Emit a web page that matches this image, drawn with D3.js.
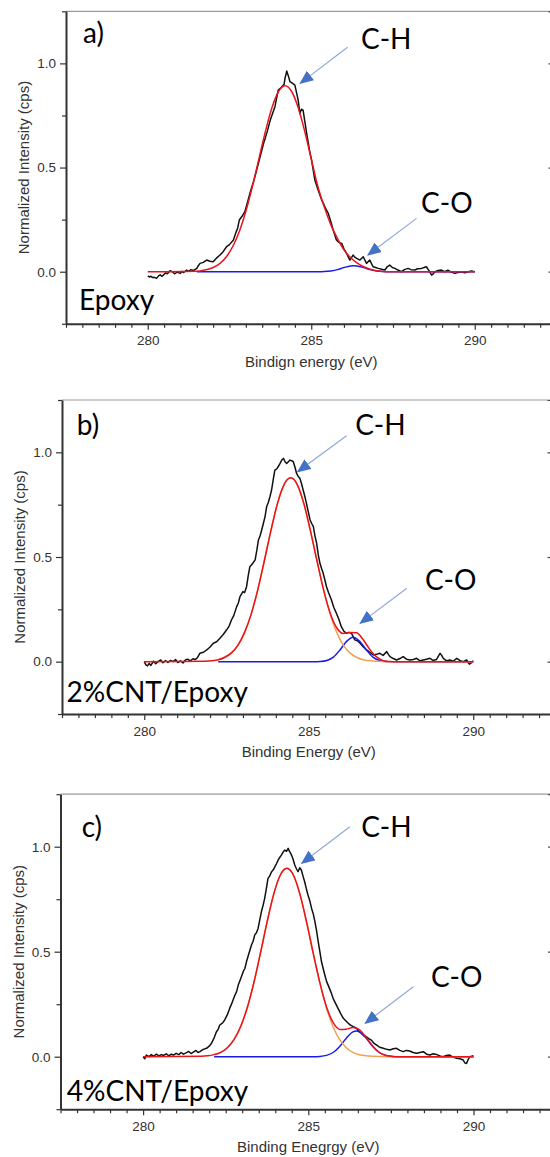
<!DOCTYPE html>
<html>
<head>
<meta charset="utf-8">
<script src="https://cdn.jsdelivr.net/npm/d3@7"></script>
<style>
  body { margin: 0; background: #fff; }
  svg { display: block; }
</style>
</head>
<body>
<div id="chart"></div>
<script>
// ---- axis ticks (shared by the three panels) ----
const xTicks = [280, 285, 290];
const xMinorTicks = [277.5, 278, 278.5, 279, 279.5, 280.5, 281, 281.5, 282, 282.5, 283, 283.5, 284, 284.5,
  285.5, 286, 286.5, 287, 287.5, 288, 288.5, 289, 289.5, 290.5, 291, 291.5, 292, 292.5];
const yTicks = [0, 0.5, 1.0];
const yMinorTicks = [-0.25, 0.25, 0.75, 1.25];
const xDomain = [277.5, 292.5];
const yDomain = [-0.25, 1.25];

// ---- a) Epoxy : [binding energy (eV), normalized intensity] ----
const epoxyRaw = [[280.0,-0.02],[280.05,-0.025],[280.1,-0.022],[280.15,-0.028],[280.2,-0.027],[280.27,-0.032],[280.33,-0.02],
  [280.38,-0.015],[280.43,-0.022],[280.48,-0.016],[280.55,-0.005],[280.6,-0.01],[280.68,0.005],[280.75,0.0],[280.82,-0.01],
  [280.9,-0.002],[280.99,-0.008],[281.05,0.002],[281.1,-0.004],[281.19,0.008],[281.25,0.002],[281.32,0.01],[281.4,0.006],
  [281.5,0.016],[281.55,0.03],[281.6,0.04],[281.7,0.045],[281.8,0.056],[281.9,0.05],[282.0,0.048],[282.1,0.065],[282.21,0.08],
  [282.3,0.095],[282.41,0.12],[282.5,0.13],[282.62,0.152],[282.7,0.19],[282.75,0.21],[282.8,0.248],[282.9,0.27],[282.97,0.288],
  [283.07,0.344],[283.15,0.39],[283.25,0.44],[283.35,0.5],[283.45,0.56],[283.55,0.62],[283.65,0.67],[283.75,0.73],[283.89,0.792],
  [283.99,0.872],[284.09,0.885],[284.17,0.9],[284.2,0.93],[284.25,0.963],[284.3,0.94],[284.35,0.912],[284.42,0.905],[284.5,0.896],
  [284.6,0.824],[284.65,0.76],[284.7,0.78],[284.75,0.776],[284.86,0.664],[284.95,0.58],[285.01,0.536],[285.11,0.44],[285.21,0.392],
  [285.32,0.344],[285.37,0.328],[285.45,0.3],[285.52,0.28],[285.6,0.24],[285.67,0.2],[285.77,0.152],[285.85,0.14],[285.93,0.136],
  [286.0,0.11],[286.08,0.088],[286.18,0.056],[286.28,0.08],[286.33,0.07],[286.39,0.064],[286.49,0.056],[286.59,0.072],[286.69,0.04],
  [286.79,0.056],[286.89,0.024],[286.97,0.02],[287.05,0.016],[287.15,0.012],[287.25,0.008],[287.33,0.025],[287.4,0.032],[287.48,0.02],
  [287.56,0.016],[287.65,0.008],[287.76,0.0],[287.85,0.01],[287.96,0.016],[288.05,0.01],[288.17,0.008],[288.25,0.014],[288.37,0.016],
  [288.45,0.02],[288.52,0.024],[288.6,0.005],[288.68,-0.016],[288.73,-0.01],[288.78,0.0],[288.88,0.006],[288.98,0.008],[289.08,0.0],
  [289.18,0.007],[289.28,-0.002],[289.39,-0.008],[289.48,-0.004],[289.59,0.0],[289.7,-0.005],[289.8,0.0],[289.9,0.003],[290.0,0.0]];
const epoxyEnvelope = [[280.0,0],[281.6,0.004],[281.8,0.010],[282.0,0.020],[282.2,0.039],[282.4,0.071],[282.6,0.121],[282.8,0.193],
  [283.0,0.290],[283.2,0.409],[283.4,0.542],[283.6,0.674],[283.8,0.788],[284.0,0.865],[284.2,0.893],[284.4,0.865],[284.6,0.788],
  [284.8,0.674],[285.0,0.542],[285.2,0.41],[285.4,0.31],[285.6,0.225],[285.8,0.16],[286.0,0.105],[286.2,0.068],[286.4,0.042],
  [286.6,0.024],[286.8,0.012],[287.0,0.005],[287.2,0.001],[287.4,0],[290.0,0]];
const epoxyCO = [[281.5,0],[285.2,0.0002],[285.4,0.0011],[285.6,0.004],[285.8,0.010],[286.0,0.020],[286.2,0.028],[286.3,0.029],
  [286.4,0.028],[286.6,0.020],[286.8,0.010],[287.0,0.004],[287.2,0.001],[287.4,0],[290.0,0]];

// ---- b) 2%CNT/Epoxy ----
const cnt2Raw = [[280.0,0.0],[280.05,-0.015],[280.1,-0.02],[280.15,-0.008],[280.2,-0.018],[280.28,0.002],[280.35,-0.01],[280.42,0.0],
  [280.5,0.008],[280.57,-0.005],[280.65,0.005],[280.72,-0.004],[280.8,0.006],[280.88,0.0],[280.95,0.01],[281.02,-0.004],[281.1,0.004],
  [281.18,-0.006],[281.25,0.008],[281.32,0.012],[281.4,0.004],[281.48,0.014],[281.55,0.01],[281.62,0.02],[281.69,0.04],[281.8,0.045],
  [281.9,0.056],[282.0,0.07],[282.1,0.088],[282.2,0.095],[282.3,0.112],[282.4,0.13],[282.5,0.151],[282.58,0.17],[282.65,0.199],
  [282.72,0.22],[282.81,0.263],[282.86,0.28],[282.91,0.311],[283.0,0.335],[283.05,0.33],[283.11,0.358],[283.16,0.41],[283.21,0.454],
  [283.3,0.47],[283.37,0.486],[283.42,0.53],[283.47,0.581],[283.52,0.6],[283.57,0.629],[283.62,0.66],[283.67,0.692],[283.72,0.74],
  [283.77,0.76],[283.82,0.788],[283.87,0.82],[283.92,0.87],[283.97,0.915],[284.02,0.92],[284.07,0.931],[284.12,0.945],[284.18,0.963],
  [284.23,0.971],[284.28,0.955],[284.33,0.947],[284.38,0.955],[284.43,0.963],[284.48,0.96],[284.53,0.955],[284.58,0.93],[284.63,0.899],
  [284.68,0.885],[284.73,0.876],[284.78,0.85],[284.83,0.82],[284.88,0.79],[284.93,0.756],[284.98,0.72],[285.04,0.677],[285.09,0.66],
  [285.14,0.645],[285.19,0.6],[285.24,0.565],[285.29,0.51],[285.34,0.47],[285.39,0.445],[285.44,0.422],[285.49,0.39],[285.54,0.358],
  [285.6,0.33],[285.69,0.295],[285.76,0.26],[285.84,0.231],[285.92,0.2],[285.99,0.167],[286.07,0.145],[286.15,0.135],[286.22,0.14],
  [286.3,0.135],[286.35,0.12],[286.4,0.104],[286.48,0.1],[286.56,0.088],[286.66,0.07],[286.76,0.056],[286.86,0.045],[286.96,0.032],
  [287.06,0.035],[287.16,0.04],[287.26,0.03],[287.37,0.048],[287.42,0.035],[287.47,0.024],[287.57,0.015],[287.67,0.008],[287.77,0.015],
  [287.87,0.024],[287.97,0.012],[288.08,0.008],[288.18,0.01],[288.28,0.016],[288.38,0.004],[288.48,0.008],[288.58,0.012],[288.68,0.016],
  [288.78,0.006],[288.88,0.01],[288.99,0.04],[289.04,0.03],[289.09,0.016],[289.19,0.004],[289.29,0.008],[289.39,0.002],[289.5,0.016],
  [289.6,0.005],[289.7,0.0],[289.8,0.008],[289.88,-0.012],[289.95,-0.005],[290.0,0.005]];
const cnt2Envelope = [[280.0,0],[281.85,0.002],[282.05,0.004],[282.25,0.009],[282.45,0.021],[282.65,0.042],[282.85,0.079],[283.05,0.140],
  [283.25,0.227],[283.45,0.343],[283.65,0.482],[283.85,0.626],[284.05,0.756],[284.25,0.846],[284.45,0.878],[284.65,0.846],[284.85,0.756],
  [285.05,0.626],[285.25,0.482],[285.45,0.344],[285.65,0.233],[285.85,0.162],[286.05,0.135],[286.25,0.139],[286.45,0.138],[286.65,0.106],
  [286.85,0.060],[287.05,0.024],[287.25,0.006],[287.45,0.001],[287.65,0],[290.0,0]];
const cnt2CH = [[282.25,0.009],[282.45,0.021],[282.65,0.042],[282.85,0.079],[283.05,0.140],[283.25,0.227],[283.45,0.343],[283.65,0.482],
  [283.85,0.626],[284.05,0.756],[284.25,0.846],[284.45,0.878],[284.65,0.846],[284.85,0.756],[285.05,0.626],[285.25,0.482],[285.45,0.343],
  [285.65,0.227],[285.85,0.140],[286.05,0.079],[286.25,0.042],[286.45,0.021],[286.65,0.009],[286.85,0.004],[287.05,0.0016],[287.45,0],[290.0,0]];
const cnt2CO = [[282.25,0],[285.15,0.0002],[285.35,0.0012],[285.55,0.006],[285.75,0.022],[285.95,0.056],[286.15,0.097],[286.35,0.117],
  [286.55,0.097],[286.75,0.056],[286.95,0.022],[287.15,0.006],[287.35,0.0012],[287.55,0.0002],[287.75,0],[290.0,0]];

// ---- c) 4%CNT/Epoxy ----
const cnt4Raw = [[280.0,0.0],[280.05,-0.01],[280.1,0.008],[280.18,0.0],[280.25,0.01],[280.32,0.002],[280.4,0.012],[280.48,0.004],
  [280.55,0.01],[280.62,0.006],[280.7,0.014],[280.78,0.004],[280.85,0.012],[280.92,0.008],[281.0,0.016],[281.08,0.01],[281.15,0.02],
  [281.22,0.012],[281.3,0.018],[281.38,0.025],[281.45,0.015],[281.52,0.022],[281.6,0.03],[281.66,0.02],[281.72,0.024],[281.82,0.035],
  [281.92,0.04],[282.0,0.05],[282.07,0.064],[282.15,0.09],[282.22,0.119],[282.27,0.13],[282.32,0.151],[282.4,0.16],[282.47,0.175],
  [282.55,0.2],[282.62,0.23],[282.7,0.26],[282.78,0.294],[282.83,0.31],[282.88,0.341],[282.95,0.37],[283.03,0.405],[283.08,0.42],
  [283.13,0.453],[283.2,0.49],[283.28,0.532],[283.33,0.55],[283.38,0.58],[283.43,0.59],[283.48,0.611],[283.53,0.65],[283.58,0.69],
  [283.63,0.72],[283.68,0.754],[283.73,0.8],[283.78,0.849],[283.83,0.86],[283.89,0.881],[283.94,0.89],[283.99,0.905],[284.04,0.92],
  [284.09,0.937],[284.14,0.95],[284.19,0.961],[284.24,0.975],[284.29,0.984],[284.34,0.978],[284.39,0.992],[284.44,0.975],[284.49,0.961],
  [284.54,0.94],[284.59,0.913],[284.64,0.895],[284.69,0.881],[284.74,0.9],[284.79,0.889],[284.84,0.86],[284.89,0.833],[284.94,0.8],
  [284.99,0.77],[285.05,0.74],[285.1,0.706],[285.15,0.68],[285.2,0.643],[285.25,0.6],[285.3,0.548],[285.35,0.5],[285.4,0.452],
  [285.45,0.42],[285.5,0.389],[285.55,0.36],[285.6,0.341],[285.68,0.31],[285.75,0.278],[285.82,0.255],[285.9,0.23],[285.98,0.205],
  [286.06,0.183],[286.14,0.17],[286.21,0.159],[286.28,0.15],[286.36,0.143],[286.41,0.14],[286.46,0.135],[286.53,0.12],[286.61,0.111],
  [286.68,0.1],[286.76,0.095],[286.84,0.085],[286.91,0.079],[286.98,0.065],[287.06,0.056],[287.16,0.045],[287.27,0.04],[287.37,0.035],
  [287.47,0.032],[287.57,0.038],[287.67,0.04],[287.77,0.03],[287.87,0.024],[287.97,0.03],[288.07,0.027],[288.17,0.02],[288.28,0.016],
  [288.38,0.02],[288.48,0.024],[288.58,0.012],[288.68,0.008],[288.78,0.014],[288.88,0.011],[288.98,0.004],[289.08,0.0],[289.18,0.006],
  [289.28,0.008],[289.38,-0.002],[289.49,-0.008],[289.59,-0.01],[289.69,-0.016],[289.74,-0.03],[289.79,-0.032],[289.85,-0.01],
  [289.89,0.0],[290.0,0.005]];
const cnt4Envelope = [[280.0,0],[281.75,0.002],[281.95,0.004],[282.15,0.010],[282.35,0.021],[282.55,0.043],[282.75,0.081],[282.95,0.143],
  [283.15,0.232],[283.35,0.351],[283.55,0.492],[283.75,0.640],[283.95,0.772],[284.15,0.864],[284.35,0.897],[284.55,0.864],[284.75,0.772],
  [284.95,0.640],[285.15,0.492],[285.35,0.353],[285.55,0.238],[285.75,0.163],[285.95,0.130],[286.15,0.131],[286.35,0.139],[286.45,0.137],
  [286.55,0.128],[286.75,0.092],[286.95,0.051],[287.15,0.020],[287.35,0.006],[287.55,0.0015],[287.75,0],[290.0,0]];
const cnt4CH = [[282.15,0.0096],[282.35,0.021],[282.55,0.043],[282.75,0.081],[282.95,0.143],[283.15,0.232],[283.35,0.351],[283.55,0.492],
  [283.75,0.640],[283.95,0.772],[284.15,0.864],[284.35,0.897],[284.55,0.864],[284.75,0.772],[284.95,0.640],[285.15,0.492],[285.35,0.351],
  [285.55,0.232],[285.75,0.143],[285.95,0.081],[286.15,0.043],[286.35,0.021],[286.55,0.0096],[286.75,0.004],[286.95,0.0016],[287.35,0],[290.0,0]];
const cnt4CO = [[282.15,0],[285.15,0.0003],[285.35,0.0015],[285.55,0.0063],[285.75,0.020],[285.95,0.049],[286.15,0.088],[286.35,0.118],
  [286.45,0.122],[286.55,0.118],[286.75,0.088],[286.95,0.049],[287.15,0.020],[287.35,0.0063],[287.55,0.0015],[287.75,0.0003],[287.95,0],[290.0,0]];

// ---- colours ----
const colorRaw = "#111111", colorEnvelope = "#e8141c", colorCO = "#1a1aee", colorCH = "#f2a055";
const arrowLine = "#8eaad8", arrowHead = "#4472c4";

const svg = d3.select("#chart")
  .append("svg")
  .attr("width", 550)
  .attr("height", 1157);

// arrow head marker
svg.append("defs").append("marker")
  .attr("id", "head")
  .attr("viewBox", "0 0 14 12")
  .attr("refX", 13)
  .attr("refY", 6)
  .attr("markerUnits", "userSpaceOnUse")
  .attr("markerWidth", 14)
  .attr("markerHeight", 12)
  .attr("orient", "auto")
  .append("path")
  .attr("d", "M0,0 L14,6 L0,12 Z")
  .attr("fill", arrowHead);

function renderPanel(p) {
  const x = d3.scaleLinear()
    .domain(xDomain)
    .range([p.left, p.left + p.pxPerEv * (xDomain[1] - xDomain[0])]);
  const y = d3.scaleLinear()
    .domain(yDomain)
    .range([p.top + p.height, p.top]);
  const right = x.range()[1], bottom = p.top + p.height;

  const g = svg.append("g");

  // top frame line
  g.append("line")
    .attr("x1", p.left).attr("x2", right)
    .attr("y1", p.top).attr("y2", p.top)
    .attr("stroke", "#9a9a9a")
    .attr("stroke-width", 1.2);

  // right axis ticks (pointing inward, mostly off canvas)
  g.append("g")
    .attr("transform", `translate(${right},0)`)
    .call(d3.axisRight(y).tickValues(yTicks).tickSize(-8).tickFormat(""))
    .call(s => s.selectAll("line,path").attr("stroke", "#444").attr("stroke-width", 1.2));

  // bottom axis
  g.append("g")
    .attr("transform", `translate(0,${bottom})`)
    .call(d3.axisBottom(x).tickValues(xMinorTicks).tickSize(4).tickFormat("").tickSizeOuter(0))
    .call(s => s.select(".domain").remove())
    .call(s => s.selectAll("line").attr("stroke", "#333").attr("stroke-width", 1.2));
  g.append("g")
    .attr("transform", `translate(0,${bottom})`)
    .call(d3.axisBottom(x).tickValues(xTicks).tickSize(6).tickPadding(6).tickSizeOuter(0))
    .call(s => s.select(".domain").attr("stroke", "#333").attr("stroke-width", 2))
    .call(s => s.selectAll("line").attr("stroke", "#333").attr("stroke-width", 1.2))
    .call(s => s.selectAll("text")
      .style("font-family", "'Liberation Sans', Arial, sans-serif")
      .style("font-size", "13.5px")
      .attr("fill", "#333"));

  // left axis
  g.append("g")
    .attr("transform", `translate(${p.left},0)`)
    .call(d3.axisLeft(y).tickValues(yMinorTicks).tickSize(4).tickFormat("").tickSizeOuter(0))
    .call(s => s.select(".domain").remove())
    .call(s => s.selectAll("line").attr("stroke", "#333").attr("stroke-width", 1.2));
  g.append("g")
    .attr("transform", `translate(${p.left},0)`)
    .call(d3.axisLeft(y).tickValues(yTicks).tickSize(6).tickPadding(4).tickFormat(d3.format(".1f")).tickSizeOuter(0))
    .call(s => s.select(".domain").attr("stroke", "#333").attr("stroke-width", 2))
    .call(s => s.selectAll("line").attr("stroke", "#333").attr("stroke-width", 1.2))
    .call(s => s.selectAll("text")
      .style("font-family", "'Liberation Sans', Arial, sans-serif")
      .style("font-size", "13.5px")
      .attr("fill", "#333"));

  // axis titles
  g.append("text")
    .attr("x", x(285))
    .attr("y", bottom + 43)
    .attr("text-anchor", "middle")
    .style("font-family", "'Liberation Sans', Arial, sans-serif")
    .style("font-size", "15px")
    .attr("fill", "#333")
    .text(p.xTitle);
  g.append("text")
    .attr("transform", `translate(${p.left - 37},${p.top + p.height / 2}) rotate(-90)`)
    .attr("text-anchor", "middle")
    .style("font-family", "'Liberation Sans', Arial, sans-serif")
    .style("font-size", "15px")
    .attr("fill", "#333")
    .text("Normalized Intensity (cps)");

  // spectra
  const smooth = d3.line().x(d => x(d[0])).y(d => y(d[1])).curve(d3.curveMonotoneX);
  const raw = d3.line().x(d => x(d[0])).y(d => y(d[1]));

  g.append("path").datum(p.raw)
    .attr("d", raw).attr("fill", "none")
    .attr("stroke", colorRaw).attr("stroke-width", 1.5).attr("stroke-linejoin", "round");
  g.append("path").datum(p.co)
    .attr("d", smooth).attr("fill", "none")
    .attr("stroke", colorCO).attr("stroke-width", 1.5);
  if (p.ch) {
    g.append("path").datum(p.ch)
      .attr("d", smooth).attr("fill", "none")
      .attr("stroke", colorCH).attr("stroke-width", 1.5);
  }
  g.append("path").datum(p.envelope)
    .attr("d", smooth).attr("fill", "none")
    .attr("stroke", colorEnvelope).attr("stroke-width", 1.5);

  // annotations
  const bigText = (pos, txt) => g.append("text")
    .attr("x", x(pos[0])).attr("y", y(pos[1]))
    .style("font-family", "Lato, 'Open Sans', sans-serif")
    .style("font-size", "28px")
    .attr("fill", "#000")
    .text(txt);

  bigText(p.letterPos, p.letter);
  bigText(p.samplePos, p.sample);
  bigText(p.chLabel, "C-H");
  bigText(p.coLabel, "C-O");

  [p.chArrow, p.coArrow].forEach(a => {
    g.append("line")
      .attr("x1", x(a[0][0])).attr("y1", y(a[0][1]))
      .attr("x2", x(a[1][0])).attr("y2", y(a[1][1]))
      .attr("stroke", arrowLine)
      .attr("stroke-width", 1.2)
      .attr("marker-end", "url(#head)");
  });
}

renderPanel({
  left: 66, top: 11.3, height: 312.5, pxPerEv: 32.7,
  xTitle: "Bindign energy (eV)",
  raw: epoxyRaw, envelope: epoxyEnvelope, co: epoxyCO,
  letter: "a)", letterPos: [278.02, 1.096],
  sample: "Epoxy", samplePos: [277.9, -0.184],
  chLabel: [286.52, 1.07], chArrow: [[286.11, 1.077], [284.66, 0.904]],
  coLabel: [288.36, 0.282], coArrow: [[288.22, 0.256], [286.73, 0.08]]
});

renderPanel({
  left: 62, top: 400, height: 314, pxPerEv: 32.9,
  xTitle: "Binding Energy (eV)",
  raw: cnt2Raw, envelope: cnt2Envelope, co: cnt2CO, ch: cnt2CH,
  letter: "b)", letterPos: [277.95, 1.083],
  sample: "2%CNT/Epoxy", samplePos: [277.64, -0.192],
  chLabel: [286.41, 1.083], chArrow: [[286.15, 1.079], [284.66, 0.907]],
  coLabel: [288.53, 0.342], coArrow: [[287.98, 0.351], [286.56, 0.183]]
});

renderPanel({
  left: 60.5, top: 794.2, height: 315, pxPerEv: 33.04,
  xTitle: "Binding Enegrgy (eV)",
  raw: cnt4Raw, envelope: cnt4Envelope, co: cnt4CO, ch: cnt4CH,
  letter: "c)", letterPos: [278.14, 1.048],
  sample: "4%CNT/Epoxy", samplePos: [277.69, -0.212],
  chLabel: [286.6, 1.048], chArrow: [[286.26, 1.095], [284.8, 0.921]],
  coLabel: [288.71, 0.333], coArrow: [[288.18, 0.333], [286.72, 0.159]]
});
</script>
</body>
</html>
